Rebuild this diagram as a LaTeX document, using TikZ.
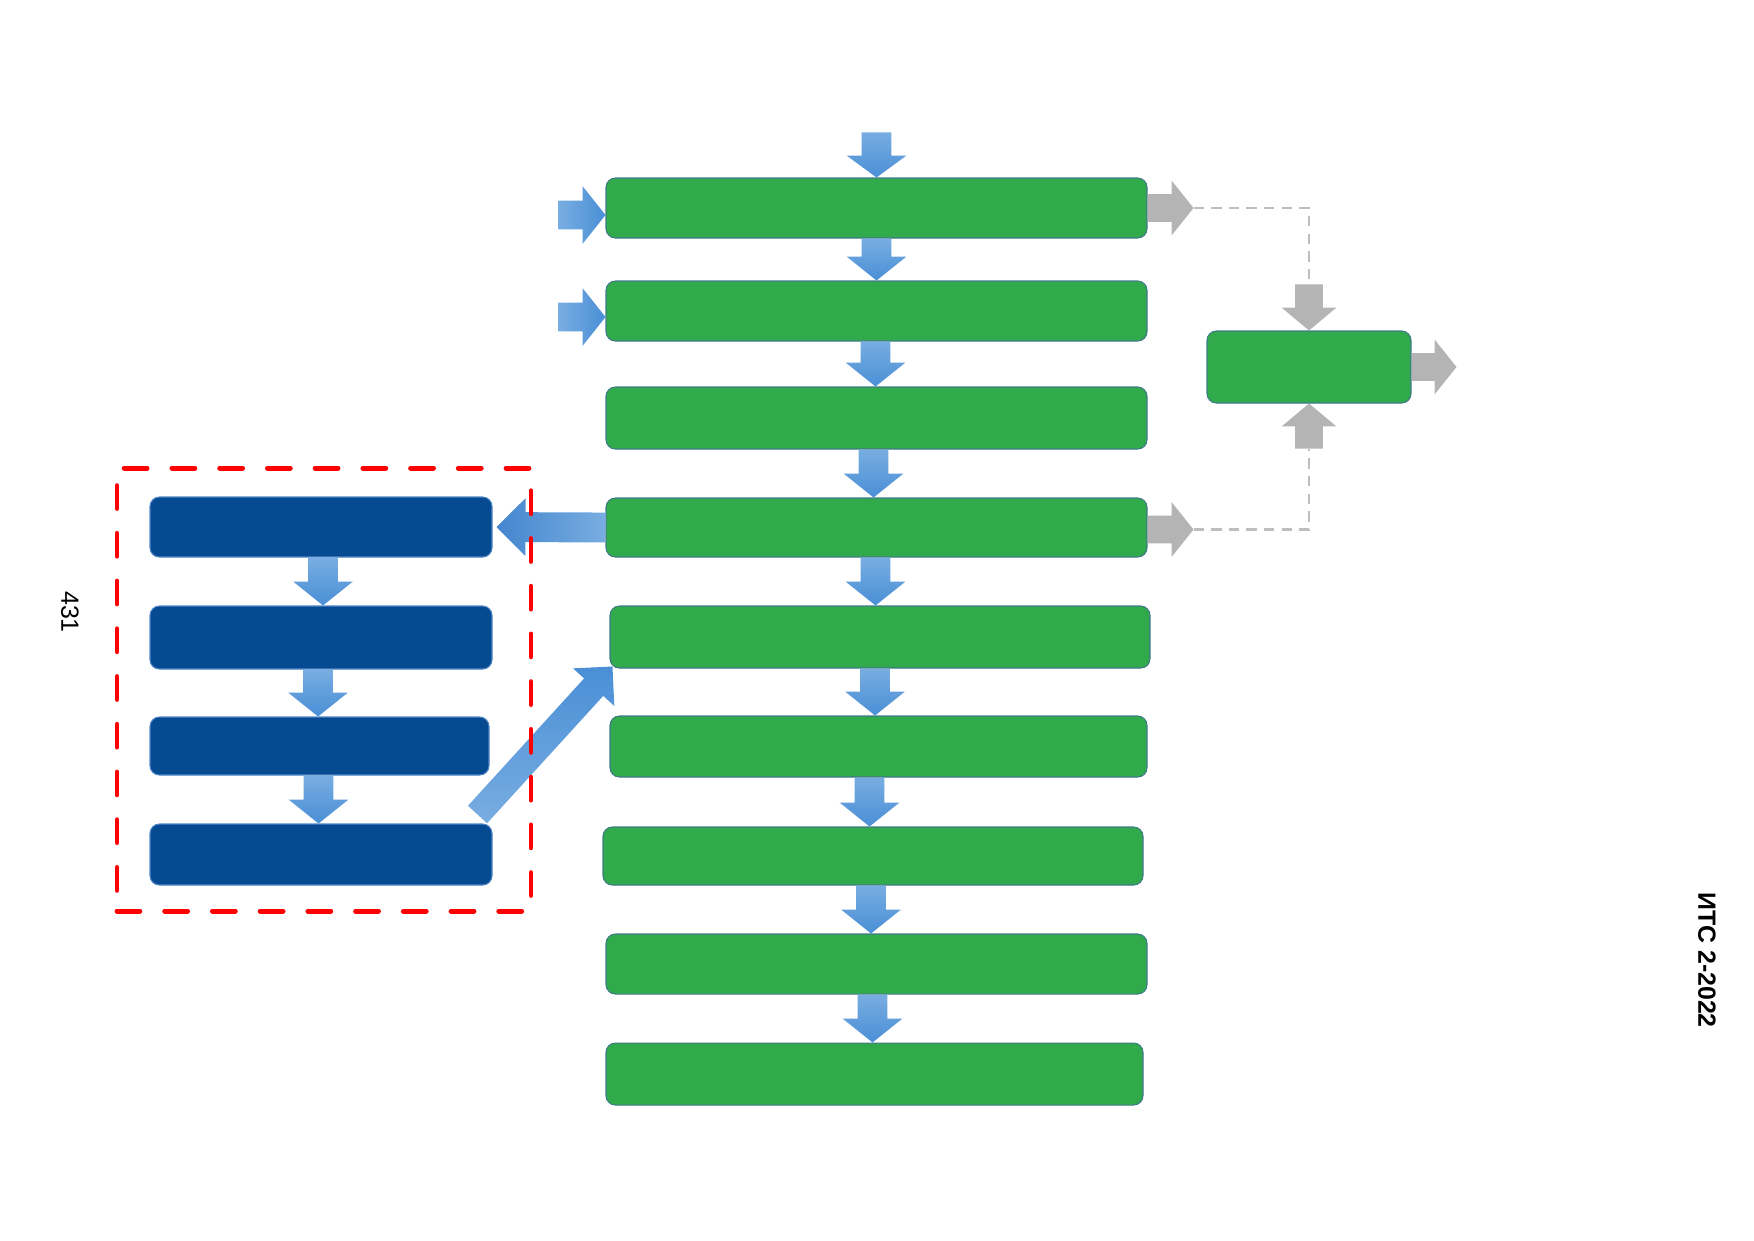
\documentclass[tikz,border=0pt]{standalone}
\usepackage{fontspec}
\setmainfont{Liberation Sans}
\usetikzlibrary{calc,fit}
\definecolor{gfill}{HTML}{30AA4A}
\definecolor{gline}{HTML}{3F7A8A}
\definecolor{bfill}{HTML}{064A92}
\definecolor{bline}{HTML}{4F86C6}
\definecolor{alight}{HTML}{78ADE1}
\definecolor{adark}{HTML}{4A8FD6}
\definecolor{adarker}{HTML}{4486CE}
\definecolor{agray}{HTML}{B4B4B4}
\definecolor{dgray}{HTML}{BEBEBE}
% block arrow: #1 style, #2 start, #3 tip, #4 shaft half-width, #5 head half-width, #6 head length (px)
\newcommand\barrow[6][]{%
  \coordinate (bah) at ($#3!#6*0.48035pt!#2$);
  \path[#1] ($#2!#4*0.48035pt!90:#3$) -- ($(bah)!#4*0.48035pt!90:#3$) -- ($(bah)!#5*0.48035pt!90:#3$) -- #3 -- ($(bah)!#5*0.48035pt!-90:#3$) -- ($(bah)!#4*0.48035pt!-90:#3$) -- ($#2!#4*0.48035pt!-90:#3$) -- cycle;}
\begin{document}
\begin{tikzpicture}[x=0.016933cm,y=-0.016933cm,
  gbox/.style={fill=gfill, draw=gline, line width=0.5pt, rounded corners=4.5pt, inner sep=0pt},
  bbox/.style={fill=bfill, draw=bline, line width=0.5pt, rounded corners=4.5pt, inner sep=0pt},
  downarr/.style={top color=alight, bottom color=adark, draw=none},
  rightarr/.style={left color=alight, right color=adark, draw=none},
  leftarr/.style={left color=adarker, right color=alight, draw=none},
  diagarr/.style={top color=adark, bottom color=alight, draw=none},
  grayarr/.style={fill=agray, draw=none},
  grayline/.style={draw=dgray, line width=1.3pt, dash pattern=on 5pt off 3.5pt},
  groupbox/.style={draw=red, line width=2.4pt, dash pattern=on 11pt off 12pt, line cap=round, inner sep=0pt}
]
\fill[white] (0,0) rectangle (1754,1240);
\useasboundingbox (0,0) rectangle (1754,1240);

% green column
\node[gbox, fit={(606,178) (1147,238)}] (g1) {};
\node[gbox, fit={(606,281) (1147,341)}] (g2) {};
\node[gbox, fit={(606,387) (1147,449)}] (g3) {};
\node[gbox, fit={(606,498) (1147,557)}] (g4) {};
\node[gbox, fit={(610,606) (1150,668)}] (g5) {};
\node[gbox, fit={(610,716) (1147,777)}] (g6) {};
\node[gbox, fit={(603,827) (1143,885)}] (g7) {};
\node[gbox, fit={(606,934) (1147,994)}] (g8) {};
\node[gbox, fit={(606,1043) (1143,1105)}] (g9) {};
\node[gbox, fit={(1207,331) (1411,403)}] (gr) {};

% blue column
\node[bbox, fit={(150,497) (492,557)}] (b1) {};
\node[bbox, fit={(150,606) (492,669)}] (b2) {};
\node[bbox, fit={(150,717) (489,775)}] (b3) {};
\node[bbox, fit={(150,824) (492,885)}] (b4) {};

% helper coordinates
\coordinate (top0) at ($(g1.north)+(0,-45)$);
\coordinate (l1) at ($(g1.west)+(-47,7)$);
\coordinate (l1t) at ($(g1.west)+(0,7)$);
\coordinate (l2) at ($(g2.west)+(-47,6)$);
\coordinate (l2t) at ($(g2.west)+(0,6)$);
\coordinate (r1t) at ($(g1.east)+(46,0)$);
\coordinate (r4s) at ($(g4.east)+(0,2)$);
\coordinate (r4t) at ($(g4.east)+(46,2)$);
\coordinate (rrt) at ($(gr.east)+(45,0)$);
\coordinate (gd) at ($(gr.north)+(0,-46)$);
\coordinate (gu) at ($(gr.south)+(0,45)$);
\coordinate (bt) at ($(b1.east)+(4,0)$);
\coordinate (ds) at ($(b4.north east)+(-15,-9)$);
\coordinate (dt) at ($(g5.south west)+(3,-2)$);
\coordinate (s12) at ($(g1.south)+(0,0)$);
\coordinate (s23) at ($(g2.south)+(-1,0)$);
\coordinate (s34) at ($(g3.south)+(-3,0)$);
\coordinate (s45) at ($(g4.south)+(-1,0)$);
\coordinate (s56) at ($(g5.south)+(-5,0)$);
\coordinate (s67) at ($(g6.south)+(-9,0)$);
\coordinate (s78) at ($(g7.south)+(-2,0)$);
\coordinate (s89) at ($(g8.south)+(-4,0)$);
\coordinate (a2) at (s12 |- g2.north);
\coordinate (a3) at (s23 |- g3.north);
\coordinate (a4) at (s34 |- g4.north);
\coordinate (a5) at (s45 |- g5.north);
\coordinate (a6) at (s56 |- g6.north);
\coordinate (a7) at (s67 |- g7.north);
\coordinate (a8) at (s78 |- g8.north);
\coordinate (a9) at (s89 |- g9.north);
\coordinate (t12) at ($(b1.south)+(2,0)$);
\coordinate (t23) at ($(b2.south)+(-3,0)$);
\coordinate (t34) at ($(b3.south)+(-1,0)$);
\coordinate (c2) at (t12 |- b2.north);
\coordinate (c3) at (t23 |- b3.north);
\coordinate (c4) at (t34 |- b4.north);

% blue arrows, green column
\barrow[downarr]{(top0)}{(g1.north)}{15}{30}{22}
\barrow[downarr]{(s12)}{(a2)}{15}{30}{24}
\barrow[downarr]{(s23)}{(a3)}{15}{30}{24}
\barrow[downarr]{(s34)}{(a4)}{15}{30}{24}
\barrow[downarr]{(s45)}{(a5)}{15}{30}{24}
\barrow[downarr]{(s56)}{(a6)}{15}{30}{24}
\barrow[downarr]{(s67)}{(a7)}{15}{30}{24}
\barrow[downarr]{(s78)}{(a8)}{15}{30}{24}
\barrow[downarr]{(s89)}{(a9)}{15}{30}{24}
\barrow[rightarr]{(l1)}{(l1t)}{14.5}{29}{23}
\barrow[rightarr]{(l2)}{(l2t)}{14.5}{29}{23}

% blue arrows, blue column
\barrow[downarr]{(t12)}{(c2)}{15}{30}{24}
\barrow[downarr]{(t23)}{(c3)}{15}{30}{24}
\barrow[downarr]{(t34)}{(c4)}{15}{30}{24}
\barrow[leftarr]{(g4.west)}{(bt)}{15}{29}{29}
\barrow[diagarr]{(ds)}{(dt)}{13}{28}{28}

% gray arrows and dashed connectors
\draw[grayline] (r1t) -- (r1t -| gr.north) -- (gd);
\draw[grayline] (r4t) -- (r4t -| gr.south) -- (gu);
\barrow[grayarr]{(g1.east)}{(r1t)}{14}{27.5}{22}
\barrow[grayarr]{(r4s)}{(r4t)}{14}{27.5}{22}
\barrow[grayarr]{(gr.east)}{(rrt)}{14}{27.5}{22}
\barrow[grayarr]{(gd)}{(gr.north)}{14}{27.5}{23}
\barrow[grayarr]{(gu)}{(gr.south)}{14}{27.5}{23}

% group frame
\node[groupbox, fit={(117,468) (531,911)}] (grp) {};

% texts
\node[rotate=-90, font=\fontsize{12}{14}\selectfont] (pg) at (70,612) {431};
\node[rotate=-90, font=\fontsize{12}{14}\selectfont\bfseries] (its) at (1707,960) {ИТС 2-2022};
\end{tikzpicture}
\end{document}
